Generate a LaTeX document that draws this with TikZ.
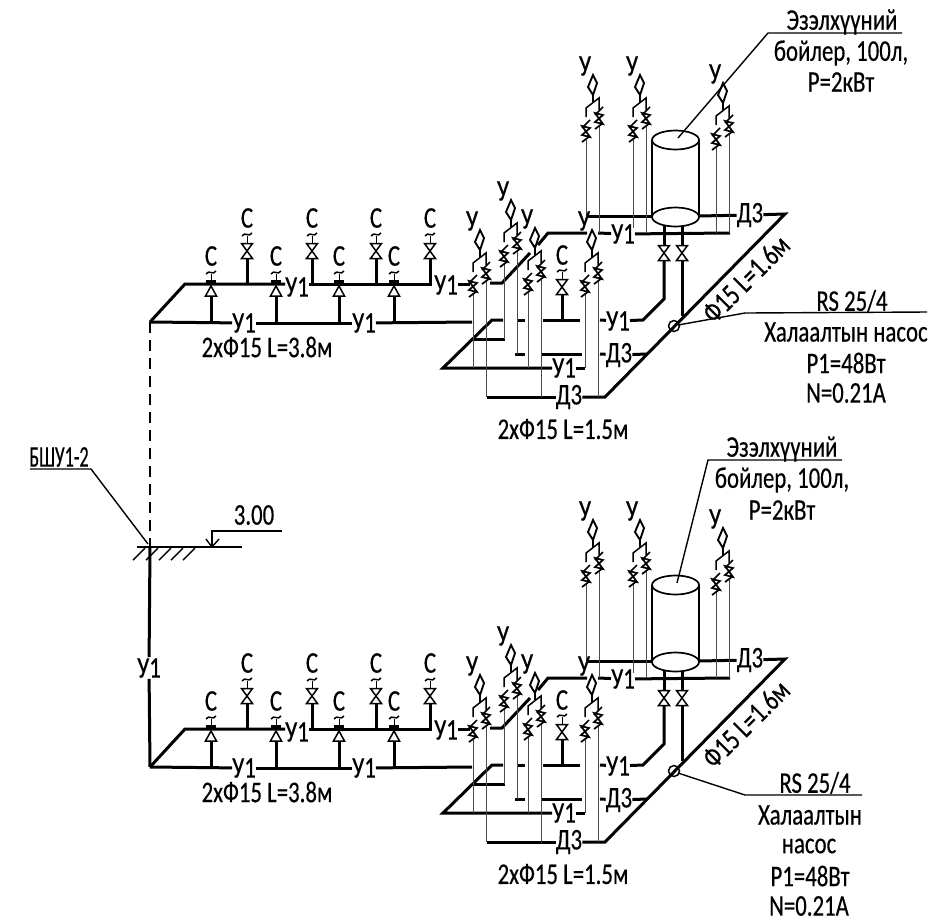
\documentclass[tikz,border=0pt]{standalone}
\usepackage{fontspec}
\setmainfont[FakeStretch=0.76,FakeBold=0.4]{Carlito}
\usetikzlibrary{arrows}

\tikzset{
	pipe/.style={line width=3pt,black},
	riser/.style={line width=1pt,black!70},
	leader/.style={line width=1.4pt,black},
	tag/.style={inner xsep=0pt,inner ysep=1pt,font=\fontsize{30}{32}\selectfont},
	handle/.pic={
		\draw[line width=1pt] (0,-7) -- (0,-15);
		\draw[line width=1.5pt] (-5,-15) .. controls (-2,-20) and (2,-13) .. (5,-18);
	},
	gate/.pic={
		\draw[line width=1.5pt,fill=white] (-5.5,-7.5) -- (5.5,-7.5) -- (-5.5,7.5) -- (5.5,7.5) -- cycle;
	},
	flexjoint/.pic={
		\draw[line width=1.7pt,fill=white] (-4,-5) -- (4,-3) -- (-4,4) -- (4,6) -- cycle;
		\draw[line width=1.7pt] (4,-11) -- (-4,-3);
		\draw[line width=1.7pt] (4,5) -- (-4,11);
	},
	mixer/.pic={
		\draw[line width=1.9pt,fill=white] (1,-10) -- (5,-2) -- (1,10) -- (-4,2) -- cycle;
		\draw[line width=1.5pt] (1,10) -- (1,17);
		\draw[line width=1.5pt] (-6,32) -- (-6,23) -- (7,13) -- (7,25);
		\pic at (-6,46) {flexjoint};
		\pic at (7,33) {flexjoint};
	},
}

\begin{document}
\begin{tikzpicture}[x=1pt,y=-1pt]
	\useasboundingbox (0,0) rectangle (944,922);

	% riser from the ground mark
	\coordinate (ground) at (150,547);
	\coordinate (topstart) at (150,322);
	\coordinate (botstart) at (150,767);
	\draw[line width=1.6pt,dash pattern=on 11pt off 7pt] (topstart) -- (ground);
	\node[tag] (ymain) at (149,668) {У1};
	\draw[pipe] (ground) -- (ymain);
	\draw[pipe] (ymain) -- (botstart);

	% ground and level
	\draw[leader] (137,547) -- (242,547);
	\foreach \hx in {133,146,159,171,183}
		\draw[leader] (\hx,560) -- +(12,-12);
	\draw[leader] (282,531) -- (212,531) -- (212,547);
	\draw[leader] (206,539) -- (212,547) -- (219,539);
	\node[tag] (level) at (254,515) {3.00};
	\node[tag] (shaft) at (59,457) {\scalebox{0.8}[1]{БШУ1-2}};
	\draw[leader] (30,469) -- (91,469) -- (148,544);

	\foreach \m/\dy in {a/0,b/445} {
	\begin{scope}[shift={(0,\dy)}]
		% left run
		\coordinate (s\m) at (150,322);
		\node[tag] (ba\m) at (244,323) {У1};
		\node[tag] (bb\m) at (364,323) {У1};
		\node[tag] (ta\m) at (297,287) {У1};
		\node[tag] (tb\m) at (446,285) {У1};
		\node[tag] (dima\m) at (267,347) {2хФ15 L=3.8м};
		\draw[pipe] (s\m) -- (ba\m);
		\draw[pipe] (ba\m) -- (bb\m);
		\draw[pipe] (bb\m) -- (472,322);
		\draw[pipe,line join=miter] (s\m) -- (185,284) -- (ta\m.west |- 185,284);
		\draw[pipe] (ta\m.east |- 0,284) -- (432,284);
		\draw[pipe] (tb\m.east |- 0,284) -- (470,284);

		% fixtures on the left run
		\foreach \vx/\i in {247/1,312/2,376/3,430/4} {
			\draw[pipe] (\vx,258) -- (\vx,284);
			\pic at (\vx,251) {gate};
			\pic at (\vx,251) {handle};
			\node[tag] (ct\i\m) at (\vx,218) {С};
		}
		\foreach \vx/\i in {211/1,276/2,339/3,394/4} {
			\draw[pipe] (\vx,296) -- (\vx,322);
			\fill (\vx-5,280) rectangle (\vx+5,285);
			\draw[line width=1.5pt,fill=white] (\vx,286) -- (\vx+5.5,296) -- (\vx-5.5,296) -- cycle;
			\pic at (\vx,289) {handle};
			\node[tag] (cl\i\m) at (\vx,256) {С};
		}

		% right block
		\coordinate (cn\m) at (785,214);
		\coordinate (cs\m) at (605,397);
		\coordinate (cw\m) at (443,368);
		\node[tag] (de\m) at (750,215) {Д3};
		\node[tag] (dm\m) at (619,355) {Д3};
		\node[tag] (ds\m) at (569,397) {Д3};
		\node[tag] (uk\m) at (623,234) {У1};
		\node[tag] (um\m) at (618,321) {У1};
		\node[tag] (us\m) at (564,368) {У1};
		\node[tag] (dimb\m) at (563,429) {2хФ15 L=1.5м};
		\node[tag,rotate=45] (dimc\m) at (746,279) {Ф15 L=1.6м};

		\draw[pipe,line join=miter] (de\m) -- (cn\m) -- (cs\m) -- (ds\m);
		\draw[pipe] (ds\m) -- (487,397);
		\draw[pipe] (dm\m) -- (647,354);
		\draw[pipe] (dm\m) -- (600,354);
		\draw[pipe] (542,354) -- (582,354);
		\draw[pipe] (515,354) -- (525,354);
		\draw[pipe,line join=miter] (503,320) -- (492,320) -- (cw\m) -- (us\m);
		\draw[pipe] (us\m) -- (585,368);
		\draw[pipe] (473,339) -- (505,339);
		\draw[pipe] (518,320) -- (525,320);
		\draw[pipe] (543,320) -- (580,320);
		\draw[pipe] (600,320) -- (um\m);
		\draw[pipe,line join=miter] (um\m) -- (643,320) -- (664,299) -- (664,258);
		\draw[pipe] (490,283) -- (502,283) -- (530,253);
		\draw[pipe] (538,245) -- (548,233) -- (587,233);
		\draw[pipe] (598,233) -- (uk\m);
		\draw[pipe] (uk\m) -- (730,233);
		\draw[pipe] (587,216) -- (653,216);
		\draw[pipe] (698,216) -- (de\m);
		\draw[pipe] (682,258) -- (682,316);
		\draw[pipe] (664,224) -- (664,246);
		\draw[pipe] (682,224) -- (682,246);
		\draw[pipe] (562,294) -- (562,320);

		% mixers with their risers
		\foreach \dx/\dy/\lend/\rend/\i in {592/85/216/233/1,639/85/228/233/2,722/93/233/233/3,479/240/368/397/4,510/210/339/354/5,534/238/368/397/6,591/240/368/397/7} {
			\draw[riser] (\dx-6,\dy+54) -- (\dx-6,\lend);
			\draw[riser] (\dx+7,\dy+41) -- (\dx+7,\rend);
			\pic at (\dx,\dy) {mixer};
			\node[tag] (fx\i\m) at (\dx-7,\dy-19) {У};
		}

		% boiler
		\draw[line width=1.7pt] (652,140) -- (652,216);
		\draw[line width=1.7pt] (699,140) -- (699,216);
		\draw[line width=1.7pt,fill=white] (675.5,140) ellipse (23.5 and 9.5);
		\draw[line width=1.7pt,fill=white] (675.5,217) ellipse (23.5 and 9.5);

		% valves and pump
		\pic at (664,253) {gate};
		\pic at (682,253) {gate};
		\pic at (562,287) {gate};
		\pic at (562,287) {handle};
		\node[tag] (cm\m) at (562,255) {С};
		\draw[line width=1.5pt] (674,326) circle (5.5);
	\end{scope}
	}

	% notes of the upper block
	\node[tag] (boila) at (842,22) {Эзэлхүүний};
	\node[tag] (boilb) at (841,53) {бойлер, 100л,};
	\node[tag] (boilc) at (841,82) {Р=2кВт};
	\draw[leader] (678,138) -- (768,33) -- (902,33);
	\node[tag] (pumpa) at (852,301) {RS 25/4};
	\node[tag] (pumpb) at (846,332) {Халаалтын насос};
	\node[tag] (pumpc) at (846,363) {Р1=48Вт};
	\node[tag] (pumpd) at (846,393) {N=0.21А};
	\draw[leader] (678,325) -- (745,313) -- (927,312);

	% notes of the lower block
	\node[tag] (boild) at (782,449) {Эзэлхүүний};
	\node[tag] (boile) at (782,480) {бойлер, 100л,};
	\node[tag] (boilf) at (782,510) {Р=2кВт};
	\draw[leader] (677,583) -- (708,460) -- (842,460);
	\node[tag] (pumpe) at (815,783) {RS 25/4};
	\node[tag] (pumpf) at (810,815) {Халаалтын};
	\node[tag] (pumpg) at (809,846) {насос};
	\node[tag] (pumph) at (810,876) {Р1=48Вт};
	\node[tag] (pumpi) at (809,906) {N=0.21А};
	\draw[leader] (678,773) -- (745,795) -- (862,795);
\end{tikzpicture}
\end{document}
